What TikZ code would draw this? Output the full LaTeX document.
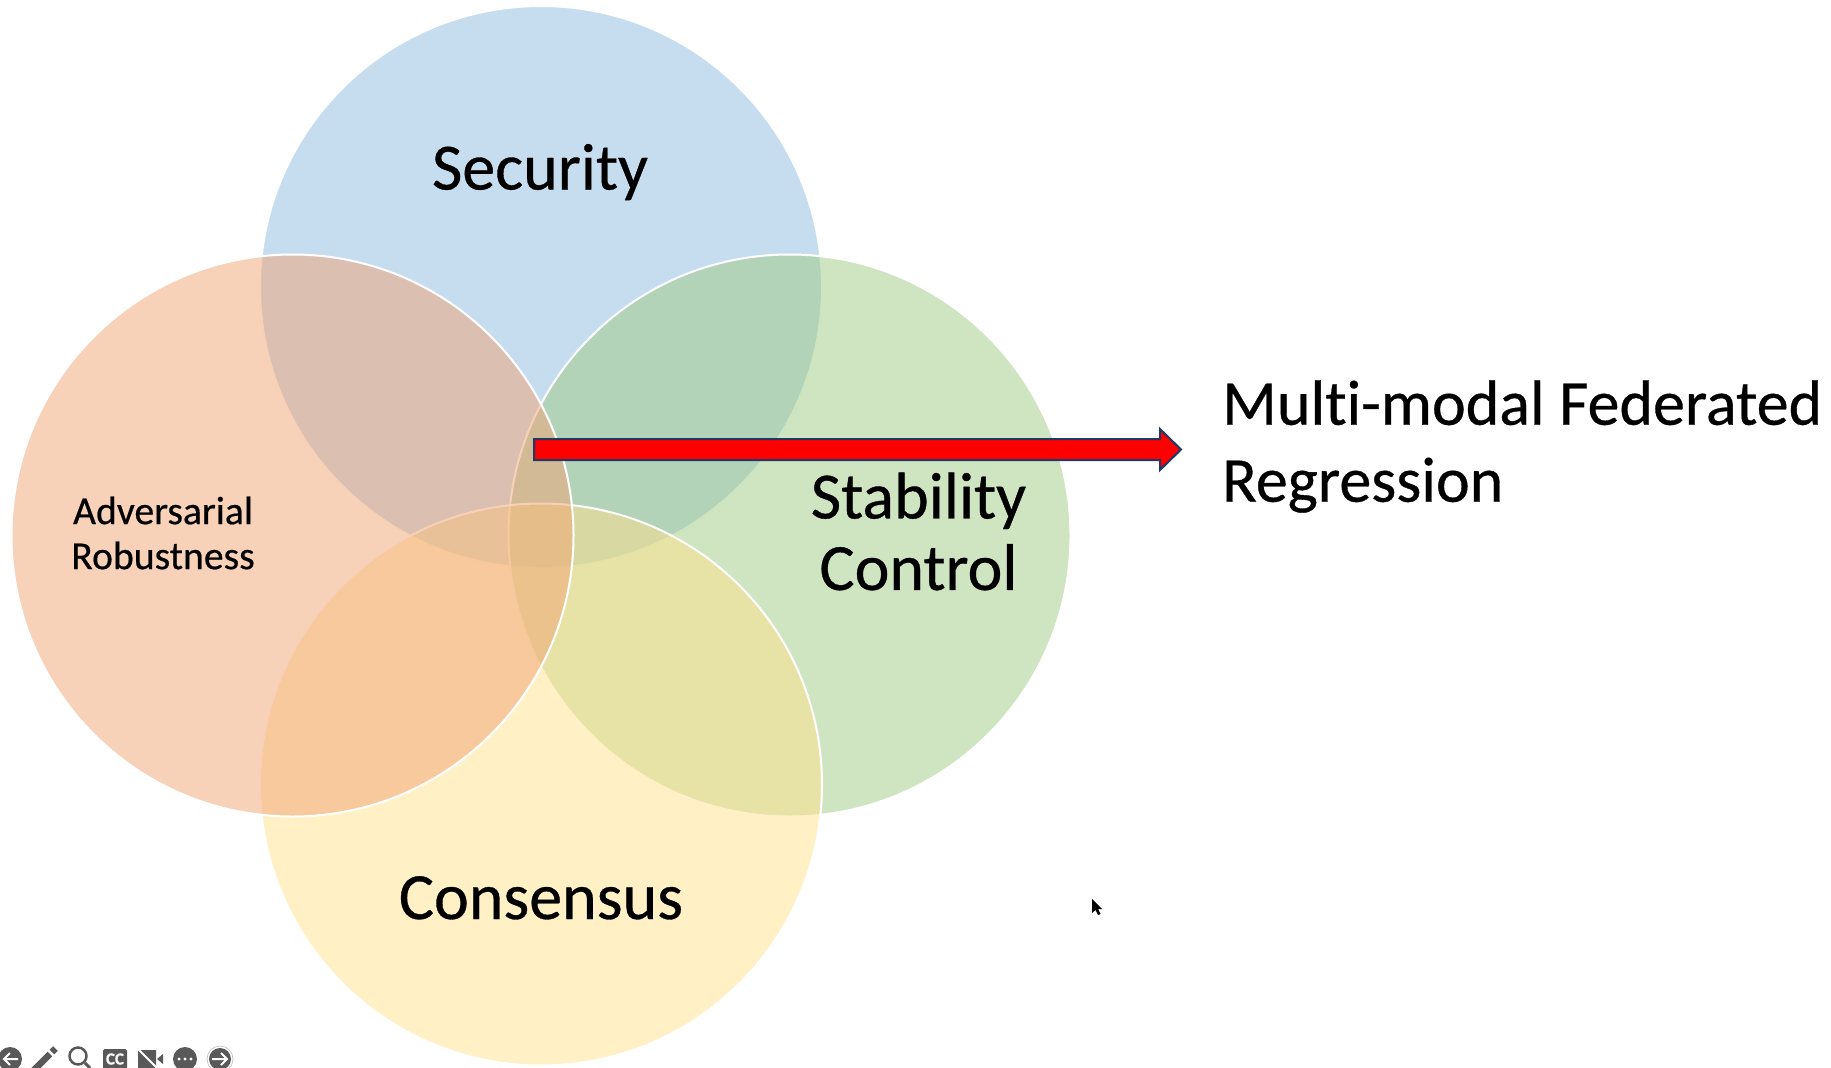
\documentclass[tikz,border=0pt]{standalone}
\usepackage{fontspec}
\setmainfont[Ligatures=NoCommon,FakeBold=0.5]{Carlito}
\tikzset{
  x=1pt,y=-1pt,
  venn/.style={circle,inner sep=0pt,minimum size=562pt,draw=white,line width=2pt,fill opacity=0.5,draw opacity=1},
  big/.style={font=\fontsize{66}{71.5}\selectfont,text=black,inner sep=0pt,align=center},
  side/.style={font=\fontsize{64}{77}\selectfont,text=black,inner sep=0pt,align=left},
  small/.style={font=\fontsize{39.7}{45}\selectfont,text=black,inner sep=0pt,align=center},
  redarrow/.style={fill=red,draw=arrowblue,line width=2pt,line join=miter},
  tool/.style={fill=toolgrey,draw=none},
}
\definecolor{arrowblue}{HTML}{1F3864}
\definecolor{toolgrey}{HTML}{595959}
\definecolor{vblue}{RGB}{141,187,226}
\definecolor{vorange}{RGB}{241,163,115}
\definecolor{vgreen}{RGB}{159,201,129}
\definecolor{vyellow}{RGB}{255,225,141}
\begin{document}
\begin{tikzpicture}
\useasboundingbox (0,0) rectangle (1831,1068);
\clip (0,0) rectangle (1831,1068);
\node[venn,fill=vblue] (top) at (541,287) {};
\node[venn,fill=vgreen] (right) at (789.5,535.5) {};
\node[venn,fill=vyellow] (bottom) at (541,784.5) {};
\node[venn,fill=vorange] (left) at (292.5,535.5) {};
\node[big,anchor=base] (security) at (540,189.5) {Security};
\node[big,anchor=base] (consensus) at (541,919) {Consensus};
\node[small,anchor=center] (adv) at (163,533) {Adversarial\\Robustness};
\node[big,anchor=center] (stab) at (918.5,531.5) {Stability\\Control};
\node[side,anchor=west] (mm) at (1222,446.5) {Multi-modal Federated\\Regression};
\coordinate (a1) at (534,439);
\coordinate (a2) at (1160,439);
\coordinate (a3) at (1160,429);
\coordinate (a4) at (1181,449.5);
\coordinate (a5) at (1160,470);
\coordinate (a6) at (1160,460);
\coordinate (a7) at (534,460);
\draw[redarrow] (a1)--(a2)--(a3)--(a4)--(a5)--(a6)--(a7)--cycle;
% cursor
\fill[black] (1092,899)--(1092,913)--(1095.5,910)--(1098,915)--(1100.5,914)--(1098,909)--(1102,909)--cycle;
% toolbar
\node[circle,tool,minimum size=24pt,inner sep=0pt] (back) at (10,1059) {};
\draw[white,line width=2pt] (18,1059)--(4,1059) (10,1053)--(4,1059)--(10,1065);
\draw[white,line width=9pt] (33,1071)--(54,1050);
\draw[toolgrey,line width=6.5pt] (33,1071)--(50,1054);
\draw[toolgrey,line width=6.5pt] (52,1052)--(55.5,1048.5);
\node[circle,draw=toolgrey,line width=2.5pt,minimum size=17pt,inner sep=0pt] (lens) at (78,1056) {};
\draw[toolgrey,line width=3pt] (lens.south east)--(90,1068);
\node[tool,rounded corners=1.5pt,minimum width=24pt,minimum height=20pt,inner sep=0pt,text=white,font=\bfseries\fontsize{17}{17}\selectfont] (cc) at (115,1059) {CC};
\fill[toolgrey] (138,1050)--(156,1050)--(156,1068)--(138,1068)--cycle (157,1059)--(163,1054)--(163,1064)--cycle;
\draw[white,line width=2pt] (138,1049)--(160,1071);
\node[circle,tool,minimum size=24pt,inner sep=0pt] (more) at (185,1059) {};
\fill[white] (179,1059) circle (1.7) (185,1059) circle (1.7) (191,1059) circle (1.7);
\node[circle,tool,minimum size=22pt,inner sep=0pt] (next) at (220,1059) {};
\draw[lightgray,line width=0.7pt] (220,1059) circle (13);
\draw[white,line width=2pt] (212,1059)--(227,1059) (221,1053)--(227,1059)--(221,1065);
\end{tikzpicture}
\end{document}
